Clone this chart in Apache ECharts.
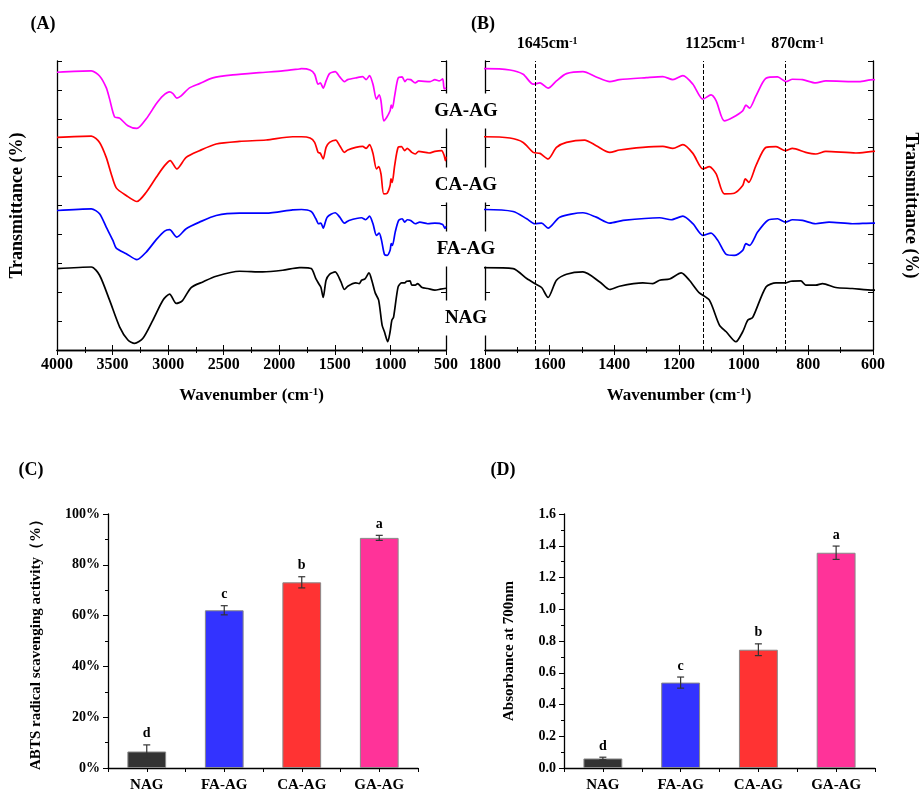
<!DOCTYPE html>
<html>
<head>
<meta charset="utf-8">
<script src="https://cdn.jsdelivr.net/npm/echarts@6.0.0/dist/echarts.min.js"></script>
<style>
  html, body { margin: 0; padding: 0; background: #fff; }
  #main { width: 921px; height: 793px; }
</style>
</head>
<body>
<div id="main"></div>
<script>
// FTIR spectra: [wavenumber, relative transmittance (stacked offset units)]
const gaSpectrum = [
  [4000,278.7],[3691,280],[3617,275],[3557,263.3],[3527,252],[3482,234],[3437,232.7],[3362,225],
  [3281,222.3],[3197,232],[3107,247],[3047,255],[2987,259],[2957,257.3],[2922,252.7],[2883,255],
  [2808,263],[2718,267.3],[2598,273],[2418,276],[2179,278.3],[1969,280],[1819,282],
  [1800,282.3],[1723,281],[1682,276.7],[1651,266.7],[1630,268],[1605,262.7],[1579,270],[1548,277.3],
  [1497,279.3],[1456,274],[1414,269.3],[1384,271.3],[1301,273.3],[1250,274.3],[1219,271.3],[1188,275.3],
  [1157,266.7],[1126,251.7],[1101,256],[1085,250],[1060,230],[1034,233.3],[1003,240],[993,245.7],
  [982,242.7],[962,255],[931,272.7],[895,274],[869,269.3],[849,271.7],[818,271.3],[777,268],
  [746,270],[643,269.3],[600,271.3],[561,270],[530,272],[516,262],[500,263]
];
const caSpectrum = [
  [4000,213.3],[3691,214.7],[3617,208.3],[3557,193.3],[3512,176.7],[3467,162.7],[3377,155],[3281,149],
  [3197,158.3],[3107,173.3],[3032,185],[2981,190],[2922,181.7],[2838,193.3],[2718,200],[2568,206.7],
  [2358,209.3],[2119,210.7],[1879,214],
  [1800,214],[1723,212.7],[1682,208.3],[1651,198.3],[1630,197.3],[1605,191.7],[1579,203.3],[1548,208.3],
  [1492,210.7],[1456,205],[1414,198.3],[1384,200.7],[1312,203.3],[1250,204.3],[1219,202.3],[1188,206],
  [1157,197.3],[1126,181.7],[1106,184],[1085,176.7],[1060,156.7],[1029,157.3],[1003,165],[995,171.7],
  [984,168.3],[962,185],[931,203.3],[900,204],[871,200],[849,202.3],[808,198.3],[777,196.7],
  [746,199.3],[653,197.7],[600,199.3],[540,200],[516,195],[505,190],[500,194]
];
const faSpectrum = [
  [4000,140],[3691,141.7],[3617,136.7],[3557,123.3],[3497,110],[3467,102.3],[3377,96.7],[3281,90.7],
  [3197,98.3],[3107,110.7],[3032,119.3],[2987,120.7],[2922,113.3],[2838,121.7],[2718,128.3],[2568,135],
  [2358,137.3],[2119,137.3],[1879,140.7],
  [1800,141],[1713,139],[1671,131.7],[1646,126.7],[1625,127.3],[1605,122.3],[1569,133.3],[1497,137.7],
  [1456,133.3],[1414,127.3],[1373,130],[1260,132.7],[1224,130.7],[1188,134.3],[1157,126.7],[1126,115],
  [1101,117.3],[1080,110],[1054,96],[1029,95],[1003,100],[993,106.7],[982,105],[957,118.3],
  [926,130],[895,131.7],[871,128.3],[849,130.7],[818,130],[777,126.7],[736,128.3],[664,126.7],
  [600,127.3],[530,126],[510,122],[500,124]
];
const nagSpectrum = [
  [4000,81.7],[3691,83.3],[3617,75],[3527,50],[3437,23.3],[3362,10],[3302,6.7],[3227,11.7],
  [3137,30],[3047,50],[2987,56],[2927,46.7],[2873,49.3],[2793,62.7],[2688,68.3],[2568,74],
  [2358,79],[2149,78.3],[1969,80],[1819,82.7],
  [1800,82.7],[1713,81.7],[1671,71.7],[1646,66.7],[1625,62.7],[1605,52.7],[1579,70],[1548,76],
  [1497,78.3],[1445,68.3],[1414,60.7],[1384,64],[1312,67.3],[1281,66.7],[1260,70],[1229,71.3],
  [1193,77.3],[1168,70],[1137,57.3],[1106,50],[1075,25],[1054,18.3],[1024,8.3],[1003,18.3],
  [987,30],[972,32.7],[931,63.3],[900,67.3],[871,67.3],[854,69],[823,69.3],[808,65],
  [777,65],[756,66.7],[715,62.7],[664,61.7],[600,60],[550,61],[500,62]
];
const spectrumNames = ['GA-AG', 'CA-AG', 'FA-AG', 'NAG'];
const spectrumColors = ['#ff00ff', '#ff0000', '#0000ff', '#000000'];
const markedBands = [1645, 1125, 870];

// antioxidant assays
const samples = ['NAG', 'FA-AG', 'CA-AG', 'GA-AG'];
const barColors = ['#333333', '#3333ff', '#ff3333', '#ff3399'];
const abtsMeans = [6.5, 62.1, 73.1, 90.6];
const abtsErrors = [2.6, 1.8, 2.2, 1.0];
const abtsLetters = ['d', 'c', 'b', 'a'];
const powerMeans = [0.06, 0.538, 0.745, 1.356];
const powerErrors = [0.008, 0.035, 0.037, 0.042];
const powerLetters = ['d', 'c', 'b', 'a'];

const FONT = '"Liberation Serif", "Times New Roman", serif';
const AX = { lineStyle: { color: '#000', width: 1.3 } };

const supRich = {
  b: { fontFamily: FONT, fontWeight: 'bold', fontSize: 17, color: '#000' },
  s: { fontFamily: FONT, fontWeight: 'bold', fontSize: 11, color: '#000', verticalAlign: 'top' }
};

function spectrumX(grid, min, max, interval, top) {
  return {
    type: 'value', gridIndex: grid, min: min, max: max, interval: interval, inverse: true,
    position: top ? 'top' : 'bottom',
    axisLine: AX,
    axisTick: { inside: true, length: 5, lineStyle: { color: '#000', width: 1 } },
    minorTick: { show: true, splitNumber: 2, length: 3, lineStyle: { color: '#000', width: 1 } },
    axisLabel: top ? { show: false } : {
      margin: 7, color: '#000', fontFamily: FONT, fontWeight: 'bold', fontSize: 16,
      formatter: function (v) { return String(v); }
    },
    splitLine: { show: false },
    name: top ? '' : '{b|Wavenumber (cm}{s|-1}{b|)}',
    nameLocation: 'middle', nameGap: 37,
    nameTextStyle: { rich: supRich }
  };
}
function spectrumY(grid, right, name) {
  return {
    type: 'value', gridIndex: grid, min: 0, max: 290, interval: 29,
    position: right ? 'right' : 'left',
    axisLine: AX,
    axisTick: { inside: true, length: 5, lineStyle: { color: '#000', width: 1 } },
    axisLabel: { show: false },
    splitLine: { show: false },
    name: name || '', nameLocation: 'middle', nameGap: right ? 29 : 31,
    nameRotate: right ? -90 : 90,
    nameTextStyle: { fontFamily: FONT, fontWeight: 'bold', fontSize: 18, color: '#000' }
  };
}
function catAxis(grid, centered) {
  return {
    type: 'category', gridIndex: grid, data: samples, position: 'bottom',
    axisLine: centered ? { show: false } : AX,
    axisTick: { show: true, alignWithLabel: !!centered, length: 4, lineStyle: { color: '#000', width: 1 } },
    axisLabel: centered ? { show: false } : { margin: 10, color: '#000', fontFamily: FONT, fontWeight: 'bold', fontSize: 15 },
    splitLine: { show: false }
  };
}
function barY(grid, max, interval, fmt, name, gap, pad) {
  return {
    type: 'value', gridIndex: grid, min: 0, max: max, interval: interval,
    axisLine: Object.assign({ show: true }, AX),
    axisTick: { show: true, length: 5, lineStyle: { color: '#000', width: 1 } },
    minorTick: { show: true, splitNumber: 2, length: 3, lineStyle: { color: '#000', width: 1 } },
    axisLabel: { margin: 8, color: '#000', fontFamily: FONT, fontWeight: 'bold', fontSize: 14, formatter: fmt },
    splitLine: { show: false },
    name: name, nameLocation: 'middle', nameGap: gap,
    nameTextStyle: { fontFamily: FONT, fontWeight: 'bold', fontSize: 15, color: '#000', padding: pad }
  };
}
function errorBars(means, errs, letters) {
  return function (params, api) {
    const i = api.value(0), m = api.value(1), e = api.value(2);
    const top = api.coord([i, m + e]);
    const bot = api.coord([i, m - e]);
    const x = top[0];
    const st = { stroke: '#333', lineWidth: 1.2 };
    return {
      type: 'group',
      children: [
        { type: 'line', shape: { x1: x, y1: top[1], x2: x, y2: bot[1] }, style: st },
        { type: 'line', shape: { x1: x - 3.5, y1: top[1], x2: x + 3.5, y2: top[1] }, style: st },
        { type: 'line', shape: { x1: x - 3.5, y1: bot[1], x2: x + 3.5, y2: bot[1] }, style: st },
        { type: 'text', x: x, y: top[1] - 4,
          style: { text: letters[i], align: 'center', verticalAlign: 'bottom',
                   font: 'bold 14px ' + FONT, fill: '#000' } }
      ]
    };
  };
}

const spectra = [gaSpectrum, caSpectrum, faSpectrum, nagSpectrum];
const series = [];
spectra.forEach(function (d, k) {
  series.push({
    type: 'line', name: spectrumNames[k], xAxisIndex: 0, yAxisIndex: 0, data: d,
    showSymbol: false, smooth: 0.25, clip: true,
    lineStyle: { color: spectrumColors[k], width: 1.7 }
  });
});
spectra.forEach(function (d, k) {
  const s = {
    type: 'line', name: spectrumNames[k], xAxisIndex: 2, yAxisIndex: 2, data: d,
    showSymbol: false, smooth: 0.25, clip: true,
    lineStyle: { color: spectrumColors[k], width: 1.7 }
  };
  if (k === 3) {
    s.markLine = {
      silent: true, symbol: ['none', 'none'],
      lineStyle: { type: 'dashed', color: '#000', width: 1 },
      label: {
        show: true, position: 'end', distance: 9, padding: [0, 0, 0, 24],
        formatter: function (p) { return '{b|' + p.value + 'cm}{s|-1}'; },
        rich: {
          b: { fontFamily: FONT, fontWeight: 'bold', fontSize: 16, color: '#000' },
          s: { fontFamily: FONT, fontWeight: 'bold', fontSize: 10, color: '#000', verticalAlign: 'top' }
        }
      },
      data: markedBands.map(function (w) { return { xAxis: w }; })
    };
  }
  series.push(s);
});
series.push({
  type: 'bar', xAxisIndex: 4, yAxisIndex: 4, barWidth: '50%',
  data: abtsMeans.map(function (v, i) {
    return { value: v, itemStyle: { color: barColors[i] } };
  }),
  itemStyle: { borderColor: '#888', borderWidth: 1 }
});
series.push({
  type: 'custom', xAxisIndex: 4, yAxisIndex: 4, z: 5,
  renderItem: errorBars(abtsMeans, abtsErrors, abtsLetters),
  data: abtsMeans.map(function (v, i) { return [i, v, abtsErrors[i]]; })
});
series.push({
  type: 'bar', xAxisIndex: 6, yAxisIndex: 5, barWidth: '50%',
  data: powerMeans.map(function (v, i) {
    return { value: v, itemStyle: { color: barColors[i] } };
  }),
  itemStyle: { borderColor: '#888', borderWidth: 1 }
});
series.push({
  type: 'custom', xAxisIndex: 6, yAxisIndex: 5, z: 5,
  renderItem: errorBars(powerMeans, powerErrors, powerLetters),
  data: powerMeans.map(function (v, i) { return [i, v, powerErrors[i]]; })
});

function bigText(txt, x, y, size) {
  return { type: 'text', x: x, y: y, z: 100,
    style: { text: txt, align: 'center', verticalAlign: 'middle',
             font: 'bold ' + size + 'px ' + FONT, fill: '#000' } };
}
function gapLabel(txt, y) {
  return { type: 'text', x: 466, y: y, z: 100,
    style: { text: txt, align: 'center', verticalAlign: 'middle',
             font: 'bold 19px ' + FONT, fill: '#000',
             backgroundColor: '#fff', padding: [8, 6] } };
}

const chart = echarts.init(document.getElementById('main'), null, { renderer: 'canvas' });
chart.setOption({
  animation: false,
  backgroundColor: '#fff',
  grid: [
    { left: 57, top: 61, width: 389, height: 289 },
    { left: 485, top: 61, width: 389, height: 289 },
    { left: 108, top: 514, width: 310, height: 258 },
    { left: 564, top: 514, width: 311, height: 258 }
  ],
  xAxis: [
    spectrumX(0, 500, 4000, 500, false),
    spectrumX(0, 500, 4000, 500, true),
    spectrumX(1, 600, 1800, 200, false),
    spectrumX(1, 600, 1800, 200, true),
    catAxis(2, false),
    catAxis(2, true),
    catAxis(3, false),
    catAxis(3, true)
  ],
  yAxis: [
    spectrumY(0, false, 'Transmittance (%)'),
    spectrumY(0, true),
    spectrumY(1, false),
    spectrumY(1, true, 'Transmittance (%)'),
    barY(2, 100, 20, '{value}%', 'ABTS radical scavenging activity（%）', 64, [0, 0, 0, 0]),
    barY(3, 1.6, 0.2, function (v) { return v.toFixed(1); }, 'Absorbance at 700nm', 47, [0, 20, 0, 0])
  ],
  graphic: [
    bigText('(A)', 43, 24, 18),
    bigText('(B)', 483, 24, 18),
    bigText('(C)', 31, 470, 18),
    bigText('(D)', 503, 470, 18),
    gapLabel('GA-AG', 111),
    gapLabel('CA-AG', 185),
    gapLabel('FA-AG', 249),
    gapLabel('NAG', 318)
  ],
  series: series
});
</script>
</body>
</html>
